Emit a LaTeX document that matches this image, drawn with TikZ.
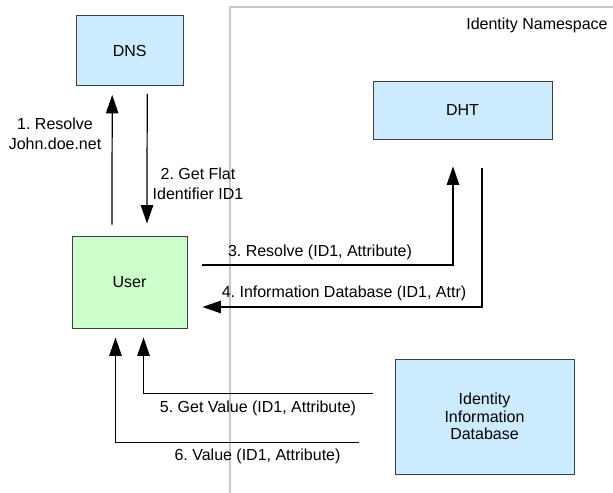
\documentclass[tikz,border=0pt]{standalone}
\usepackage{fontspec}
\setmainfont{Liberation Sans}
\usepackage{xcolor}
\usepackage{tikz}
\usetikzlibrary{positioning, arrows.meta}
\definecolor{boxblue}{HTML}{CCEBFF}
\definecolor{boxgreen}{HTML}{CCFFCC}
\definecolor{boxline}{HTML}{404040}
\definecolor{nsgray}{HTML}{C8C8C8}
\frenchspacing

\begin{document}
\begin{tikzpicture}[x=0.02cm, y=-0.02cm,
    every node/.style={font=\fontsize{9.1}{11.4}\selectfont},
    box/.style={draw=boxline, line width=0.55pt, align=center, inner sep=0pt},
    flow/.style={line width=0.7pt, -{Triangle[length=0.37cm, width=0.25cm]}},
    lbl/.style={align=center, inner sep=0pt}]
    \useasboundingbox (0,0) rectangle (613,493);
    % namespace frame
    \draw[nsgray, line width=0.6pt] (230,493) |- (613,7);
    \node[lbl] (nslabel) at (537,25) {Identity Namespace};

    \node[box, fill=boxblue, minimum width=2.14cm, minimum height=1.4cm] (dns) at (129.7,50.5) {DNS};
    \node[box, fill=boxblue, minimum width=3.58cm, minimum height=1.16cm] (dht) at (462.5,110) {DHT};
    \node[box, fill=boxgreen, minimum width=2.3cm, minimum height=1.84cm] (user) at (129.5,282) {User};
    \node[box, fill=boxblue, minimum width=3.58cm, minimum height=2.3cm] (iidb) at (484.5,416.5)
      {Identity\\[-1.5pt]Information\\[-1.5pt]Database};

    % user <-> dns
    \draw[flow, shorten <=0.22cm, shorten >=0.18cm] ([xshift=-0.35cm]user.north) -- ([xshift=-0.35cm]dns.south);
    \draw[flow, shorten <=0.16cm, shorten >=0.24cm] ([xshift=0.35cm]dns.south) -- ([xshift=0.35cm]user.north);
    \node[lbl] (l1) at (55,134) {1. Resolve\\John.doe.net};
    \node[lbl] (l2) at (198,184) {2. Get Flat\\Identifier ID1};

    % user <-> dht
    \draw[flow, shorten <=0.29cm, shorten >=0.54cm] ([yshift=0.34cm]user.east) -| ([xshift=-0.19cm]dht.south);
    \draw[flow, shorten <=0.58cm, shorten >=0.3cm] ([xshift=0.39cm]dht.south) |- ([yshift=-0.5cm]user.east);
    \node[lbl] (l3) at (320,252) {3. Resolve (ID1, Attribute)};
    \node[lbl] (l4) at (344,293) {4. Information Database (ID1, Attr)};

    % iidb -> user
    \draw[flow, shorten <=0.44cm, shorten >=0.18cm] ([yshift=0.46cm]iidb.west) -| ([xshift=0.28cm]user.south);
    \draw[flow, shorten <=0.72cm, shorten >=0.18cm] ([yshift=-0.52cm]iidb.west) -| ([xshift=-0.28cm]user.south);
    \node[lbl] (l5) at (258,408) {5. Get Value (ID1, Attribute)};
    \node[lbl] (l6) at (257.5,456) {6. Value (ID1, Attribute)};
\end{tikzpicture}
\end{document}
